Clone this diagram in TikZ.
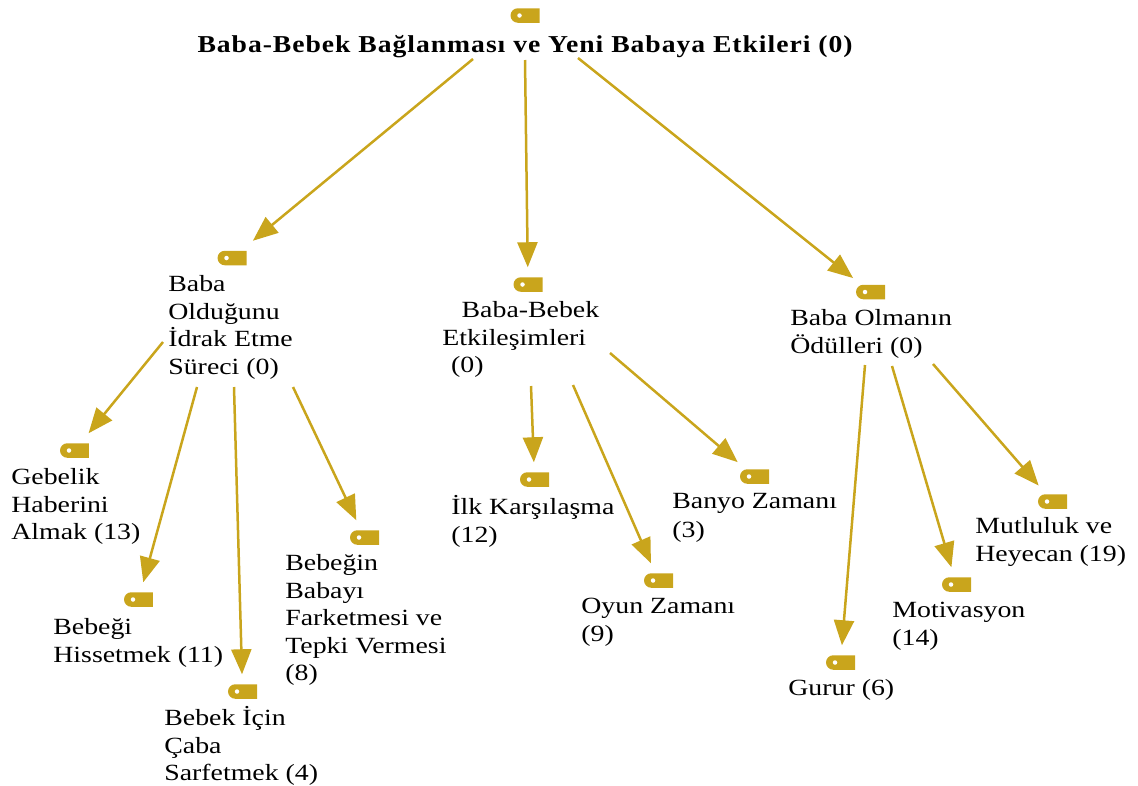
\documentclass[tikz,border=0pt]{standalone}
\usepackage{fontspec}
\setmainfont[FakeStretch=1.2]{Liberation Serif}
\newfontfamily\rootfont[FakeStretch=1.14,LetterSpace=4]{Liberation Serif}
\usetikzlibrary{arrows.meta,shapes.misc}
\definecolor{tagcol}{HTML}{C9A51C}
\tikzset{
    tagicon/.style={rounded rectangle,rounded rectangle right arc=none,fill=tagcol,inner sep=0pt,
        minimum width=0.58cm,minimum height=0.29cm,outer sep=0.2cm,
        path picture={\fill[white] ([xshift=-0.11cm]path picture bounding box.center) circle (0.045cm);}},
    label/.style={anchor=north west,inner sep=0pt,align=left,font=\fontsize{13.2}{15.7}\selectfont,execute at begin node=\strut},
    link/.style={-{Triangle[length=0.5cm,width=0.4cm]},tagcol,line width=0.05cm}
}

\begin{document}
\begin{tikzpicture}[x=0.02cm,y=-0.02cm]
    \useasboundingbox (0,0) rectangle (1138,785);
    \node[tagicon] (rootTag) at (525,15.5) {};
    \node[inner sep=0pt,font=\fontsize{13.8}{15.7}\selectfont\rootfont\bfseries] (root) at (525,47) {Baba-Bebek Bağlanması ve Yeni Babaya Etkileri (0)};

    \node[tagicon] (idrakTag) at (232,258) {};
    \node[label] (idrak) at (168,275) {Baba\\Olduğunu\\İdrak Etme\\Süreci (0)};
    \node[tagicon] (etkiTag) at (528,284.5) {};
    \node[label] (etki) at (442,301) {\hspace*{11pt}Baba-Bebek\\Etkileşimleri\\\hspace*{5pt}(0)};
    \node[tagicon] (odulTag) at (870.5,292) {};
    \node[label] (odul) at (790,309) {Baba Olmanın\\Ödülleri (0)};

    \node[tagicon] (gebelikTag) at (74.5,450.5) {};
    \node[label] (gebelik) at (11,468) {Gebelik\\Haberini\\Almak (13)};
    \node[tagicon] (hissetTag) at (138.5,599.5) {};
    \node[label] (hisset) at (53,618) {Bebeği\\Hissetmek (11)};
    \node[tagicon] (cabaTag) at (242.5,691.5) {};
    \node[label] (caba) at (164,706) {Bebek İçin\\Çaba\\Sarfetmek (4)};
    \node[tagicon] (tepkiTag) at (364.5,537.5) {};
    \node[label] (tepki) at (285,554) {Bebeğin\\Babayı\\Farketmesi ve\\Tepki Vermesi\\(8)};

    \node[tagicon] (ilkTag) at (534.5,479.5) {};
    \node[label] (ilk) at (451,495) {İlk Karşılaşma\\(12)};
    \node[tagicon] (oyunTag) at (658.5,580.5) {};
    \node[label] (oyun) at (581,598) {Oyun Zamanı\\(9)};
    \node[tagicon] (banyoTag) at (754.5,476.5) {};
    \node[label] (banyo) at (672,493) {Banyo Zamanı\\[1pt](3)};

    \node[tagicon] (gururTag) at (840.5,662.5) {};
    \node[label] (gurur) at (788,676) {Gurur (6)};
    \node[tagicon] (motivTag) at (956.5,584.5) {};
    \node[label] (motiv) at (892,602) {Motivasyon\\(14)};
    \node[tagicon] (mutluTag) at (1052.5,501.5) {};
    \node[label] (mutlu) at (975,517) {Mutluluk ve\\Heyecan (19)};

    \draw[link] ([shift={(-52,12)}]root.center) -- (idrakTag);
    \draw[link] ([shift={(0,13)}]root.center) -- (etkiTag);
    \draw[link] ([shift={(53,11)}]root.center) -- (odulTag);

    \draw[link] ([shift={(-5,67)}]idrak.north west) -- (gebelikTag);
    \draw[link] ([shift={(29,112)}]idrak.north west) -- (hissetTag);
    \draw[link] ([shift={(66,112)}]idrak.north west) -- (cabaTag);
    \draw[link] ([shift={(125,112)}]idrak.north west) -- (tepkiTag);

    \draw[link] ([shift={(89,85)}]etki.north west) -- (ilkTag);
    \draw[link] ([shift={(131,84)}]etki.north west) -- (oyunTag);
    \draw[link] ([shift={(168,52)}]etki.north west) -- (banyoTag);

    \draw[link] ([shift={(75,56)}]odul.north west) -- (gururTag);
    \draw[link] ([shift={(102,57)}]odul.north west) -- (motivTag);
    \draw[link] ([shift={(143,55)}]odul.north west) -- (mutluTag);
\end{tikzpicture}
\end{document}
